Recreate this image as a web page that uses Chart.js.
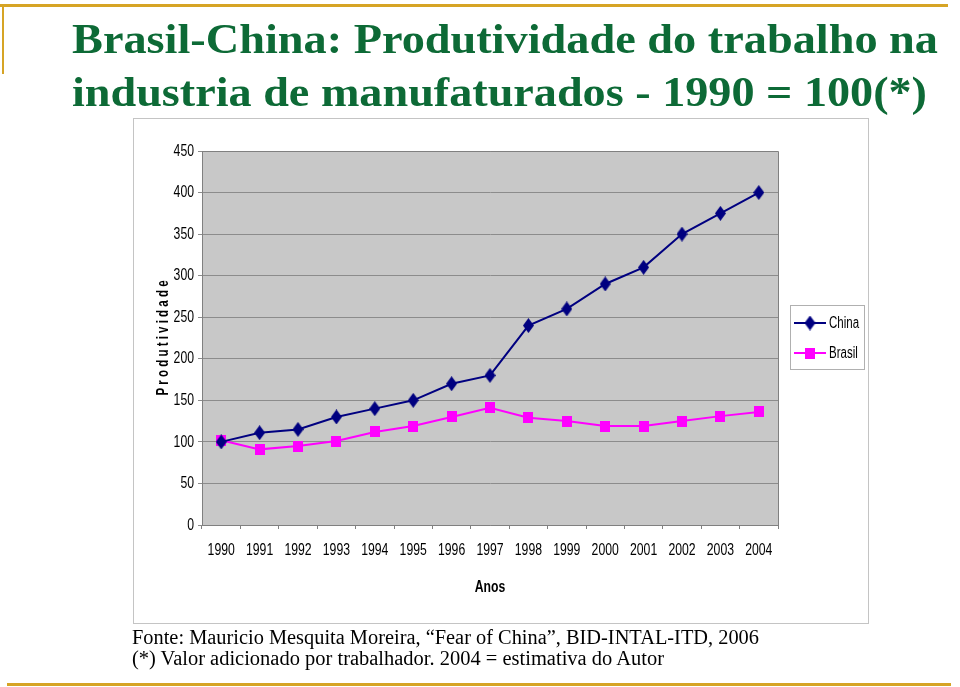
<!DOCTYPE html>
<html><head><meta charset="utf-8">
<script src="https://cdn.jsdelivr.net/npm/chart.js@4/dist/chart.umd.min.js"></script>
<style>
html,body{margin:0;padding:0;background:#fff;overflow:hidden}
#wrap{position:relative;width:960px;height:687px}
#c{position:absolute;left:0;top:0}
.gold{position:absolute;background:#d6a425}
.fit{position:absolute;white-space:nowrap;transform-origin:0 0;line-height:1}
.title{font-family:'Liberation Serif','Times New Roman',serif;font-weight:bold;font-size:42px;color:#0d6a36}
.foot{font-family:'Liberation Serif','Times New Roman',serif;font-size:20px;color:#000}
</style>
</head><body><div id="wrap">
<canvas id="c" width="960" height="687"></canvas>
<div class="gold" style="left:0;top:4px;width:948px;height:3px"></div>
<div class="gold" style="left:2px;top:4px;width:2px;height:70px"></div>
<div class="gold" style="left:7px;top:683px;width:944px;height:3px"></div>
<div class="fit title" id="t1" data-x="72" data-base="54" data-w="866"></div>
<div class="fit title" id="t2" data-x="72" data-base="107" data-w="855"></div>
<div class="fit foot" id="f1" data-x="132" data-base="644" data-w="627"></div>
<div class="fit foot" id="f2" data-x="132" data-base="665" data-w="532"></div>
</div>
<script>
const years = ['1990','1991','1992','1993','1994','1995','1996','1997','1998','1999','2000','2001','2002','2003','2004'];
const china = [100,111,115,130,140,150,170,180,240,260,290,310,350,375,400];
const brasil = [102,91,95,101,112,119,130,141,129,125,119,119,125,131,136];
const seriesNames = ['China','Brasil'];
const titleLines = ['Brasil-China: Produtividade do trabalho na','industria de manufaturados - 1990 = 100(*)'];
const footLines = ['Fonte: Mauricio Mesquita Moreira, \u201cFear of China\u201d, BID-INTAL-ITD, 2006','(*) Valor adicionado por trabalhador. 2004 = estimativa do Autor'];
const yLabel = 'P r o d u t i v i d a d e';
const xLabel = 'Anos';

// text blocks
[['t1',titleLines[0]],['t2',titleLines[1]],['f1',footLines[0]],['f2',footLines[1]]].forEach(([id,txt])=>{
  const el=document.getElementById(id);
  el.textContent=txt;
  const fs=parseFloat(getComputedStyle(el).fontSize);
  const w=el.getBoundingClientRect().width;
  const sx=parseFloat(el.dataset.w)/w;
  el.style.left=el.dataset.x+'px';
  el.style.top=(parseFloat(el.dataset.base)-fs*0.86)+'px';
  el.style.transform='scaleX('+sx+')';
});

const NAVY='#000080', MAG='#ff00ff';
function diamond(){const c=document.createElement('canvas');c.width=11;c.height=15;const x=c.getContext('2d');x.fillStyle=NAVY;x.beginPath();x.moveTo(5.5,0);x.lineTo(11,7.5);x.lineTo(5.5,15);x.lineTo(0,7.5);x.closePath();x.fill();return c;}
function square(){const c=document.createElement('canvas');c.width=10;c.height=11;const x=c.getContext('2d');x.fillStyle=MAG;x.fillRect(0,0,10,11);return c;}
const markers=[diamond(),square()];

const SANS="'Liberation Sans',Arial,sans-serif";
// condensed (Arial Narrow-like) rendering of all chart text
const canvas=document.getElementById('c');
const cctx=canvas.getContext('2d');
const origFill=cctx.fillText.bind(cctx);
const SX=0.72;
cctx.fillText=function(t,x,y,mw){this.save();this.translate(x,y);this.scale(SX,1);origFill(t,0,0);this.restore();};

const framePlugin={
  id:'frame',
  beforeDraw(chart){
    const ctx=chart.ctx,a=chart.chartArea;
    ctx.save();
    ctx.fillStyle='#fff';ctx.fillRect(0,0,chart.width,chart.height);
    ctx.strokeStyle='#c4c4c4';ctx.lineWidth=1;
    ctx.strokeRect(133.5,118.5,735,505);
    ctx.fillStyle='#c8c8c8';
    ctx.fillRect(a.left,a.top,a.right-a.left,a.bottom-a.top);
    ctx.restore();
  },
  afterDraw(chart){
    const ctx=chart.ctx,a=chart.chartArea;
    ctx.save();
    ctx.strokeStyle='#808080';ctx.lineWidth=1;
    ctx.beginPath();
    ctx.moveTo(a.left,a.top+0.5);ctx.lineTo(a.right+0.5,a.top+0.5);ctx.lineTo(a.right+0.5,a.bottom);
    ctx.stroke();
    // legend
    const lx=790,ly=305,lw=74,lh=64;
    ctx.fillStyle='#fff';ctx.fillRect(lx,ly,lw,lh);
    ctx.strokeStyle='#b0b0b0';ctx.strokeRect(lx+0.5,ly+0.5,lw,lh);
    chart.data.datasets.forEach((ds,i)=>{
      const y=ly+18+i*30;
      ctx.strokeStyle=ds.borderColor;ctx.lineWidth=2;
      ctx.beginPath();ctx.moveTo(lx+4,y);ctx.lineTo(lx+36,y);ctx.stroke();
      const m=markers[i];
      ctx.drawImage(m,lx+20-m.width/2,y-m.height/2);
      ctx.fillStyle='#000';ctx.font='16px '+SANS;ctx.textBaseline='middle';ctx.textAlign='left';
      ctx.fillText(ds.label,lx+39,y+1);
    });
    ctx.restore();
  }
};

new Chart(canvas,{
  type:'line',
  data:{labels:years,datasets:[
    {label:seriesNames[0],data:china,borderColor:NAVY,backgroundColor:NAVY,borderWidth:2,pointStyle:markers[0],pointRadius:6,tension:0},
    {label:seriesNames[1],data:brasil,borderColor:MAG,backgroundColor:MAG,borderWidth:2,pointStyle:markers[1],pointRadius:6,tension:0}
  ]},
  options:{
    responsive:false,animation:false,devicePixelRatio:1,
    layout:{padding:{left:154,top:151,right:182,bottom:86}},
    plugins:{legend:{display:false},tooltip:{enabled:false}},
    scales:{
      x:{
        offset:true,
        grid:{offset:true,drawOnChartArea:false,drawTicks:true,tickLength:4,color:'#808080'},
        border:{color:'#808080',width:1},
        ticks:{color:'#000',font:{family:SANS,size:17},maxRotation:0,autoSkip:false,padding:11},
        title:{display:true,text:xLabel,color:'#000',font:{family:SANS,size:17,weight:'bold'},padding:{top:4,bottom:3}},
        afterFit(s){s.height=76;}
      },
      y:{
        min:0,max:450,
        grid:{color:'#8c8c8c',lineWidth:1,drawTicks:true,tickLength:4},
        border:{color:'#808080',width:1},
        ticks:{stepSize:50,color:'#000',font:{family:SANS,size:17},padding:4},
        title:{display:true,text:yLabel,color:'#000',font:{family:SANS,size:16,weight:'bold'},padding:0},
        afterFit(s){s.width=48;}
      }
    }
  },
  plugins:[framePlugin]
});
</script>
</body></html>
